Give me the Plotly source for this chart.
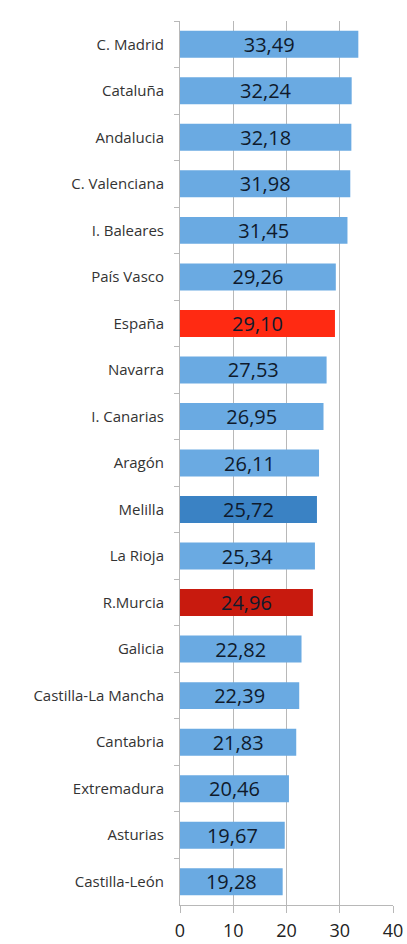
import plotly.graph_objects as go

regions = ["C. Madrid", "Cataluña", "Andalucia", "C. Valenciana", "I. Baleares",
           "País Vasco", "España", "Navarra", "I. Canarias", "Aragón", "Melilla",
           "La Rioja", "R.Murcia", "Galicia", "Castilla-La Mancha", "Cantabria",
           "Extremadura", "Asturias", "Castilla-León"]
values = [33.49, 32.24, 32.18, 31.98, 31.45, 29.26, 29.10, 27.53, 26.95, 26.11,
          25.72, 25.34, 24.96, 22.82, 22.39, 21.83, 20.46, 19.67, 19.28]
highlight = {"España": "#ff2a12", "R.Murcia": "#c81a0e", "Melilla": "#3a82c4"}
base_color = "#6aaae2"
x_ticks = [0, 10, 20, 30, 40]

colors = [highlight.get(r, base_color) for r in regions]
labels = [f"{v:.2f}".replace(".", ",") for v in values]

fig = go.Figure(go.Bar(
    x=values, y=regions, orientation="h",
    marker=dict(color=colors, line=dict(width=0)),
    text=labels, textposition="inside", insidetextanchor="middle",
    textangle=0,
    textfont=dict(family="Open Sans", size=20, color="#0f1a2c"),
    cliponaxis=False,
))

fig.update_layout(
    width=407, height=944,
    margin=dict(l=180, r=14, t=21, b=39),
    paper_bgcolor="white", plot_bgcolor="white",
    bargap=0.42, showlegend=False,
    uniformtext=dict(minsize=20, mode="show"),
)
fig.update_xaxes(
    range=[0, 40], tickvals=x_ticks, ticktext=[str(t) for t in x_ticks],
    showgrid=True, gridcolor="#b8b8b8", gridwidth=1,
    showline=True, linecolor="#b8b8b8", linewidth=1,
    ticks="outside", ticklen=7, tickcolor="#b8b8b8",
    tickfont=dict(family="Open Sans", size=18, color="#222222"),
    ticklabelstandoff=2,
    zeroline=False, automargin=False,
)
fig.update_yaxes(
    categoryorder="array", categoryarray=regions, autorange="reversed",
    showline=True, linecolor="#b8b8b8", linewidth=1,
    ticks="outside", ticklen=5, tickcolor="#b8b8b8", tickson="boundaries",
    tickfont=dict(family="Open Sans", size=15, color="#333333"),
    ticklabelstandoff=12, automargin=False,
)

fig.write_html(
    "out.html",
    config={"displayModeBar": False},
    post_script="document.body.style.margin='0';document.body.style.overflow='hidden';",
)
